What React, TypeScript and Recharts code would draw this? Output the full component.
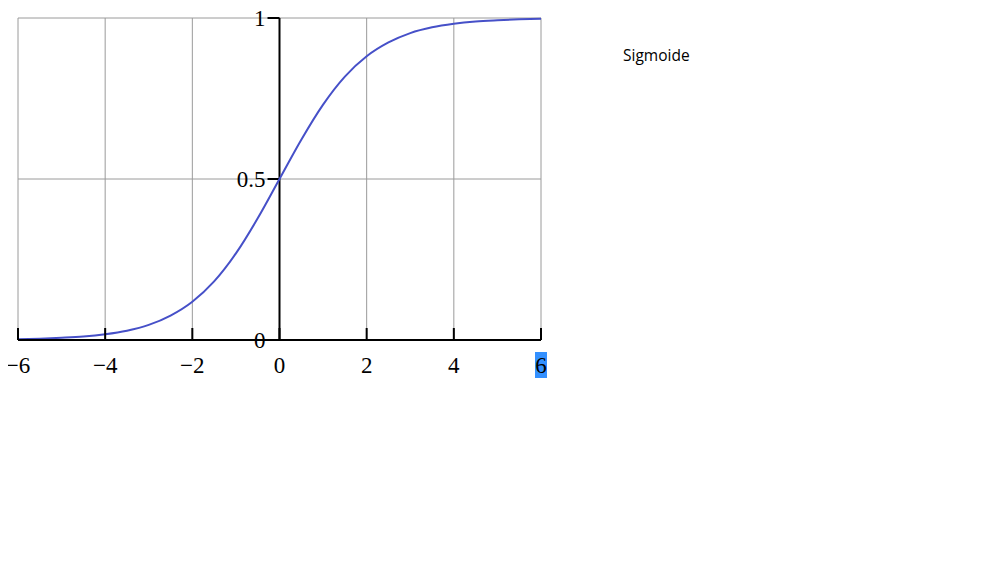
import { CartesianGrid, Line, LineChart, ReferenceLine, XAxis, YAxis } from "recharts";

// sigmoid curve, values
const xs = [-6, -5.5, -5, -4.5, -4, -3.5, -3, -2.5, -2, -1.5, -1, -0.5, 0, 0.5, 1, 1.5, 2, 2.5, 3, 3.5, 4, 4.5, 5, 5.5, 6];
const ys = [0.002, 0.004, 0.007, 0.011, 0.018, 0.029, 0.047, 0.076, 0.119, 0.182, 0.269, 0.378, 0.5, 0.622, 0.731, 0.818, 0.881, 0.924, 0.953, 0.971, 0.982, 0.989, 0.993, 0.996, 0.998];

const xTicks = [-6, -4, -2, 0, 2, 4, 6];
const yTicks = [0, 0.5, 1];
const yTickLabels = ["0", "0.5", "1"];
const selectedTick = 6;
const legendLabel = "Sigmoide";

const data = xs.map((x, i) => ({ x, y: ys[i] }));

const serif = "'Liberation Serif', 'Times New Roman', serif";

const XTick = (props: any) => {
  const { x, y, payload } = props;
  const v = payload.value as number;
  const label = v < 0 ? `\u2212${Math.abs(v)}` : `${v}`;
  return (
    <g>
      <line x1={x} x2={x} y1={y - 12} y2={y} stroke="#000" strokeWidth={2} />
      {v === selectedTick && <rect x={x - 6} y={y + 12} width={12} height={26} fill="#3390ff" />}
      <text x={x} y={y + 33} textAnchor="middle" fontFamily={serif} fontSize={23} fill="#000">
        {label}
      </text>
    </g>
  );
};

export default function App() {
  return (
    <div style={{ position: "relative", width: 976, height: 574, margin: "-8px 0 0 -8px" }}>
      <LineChart width={976} height={574} data={data} margin={{ top: 18, right: 435, bottom: 194, left: 18 }}>
        <CartesianGrid stroke="#9a9a9a" strokeWidth={1} />
        <XAxis
          dataKey="x"
          type="number"
          domain={[-6, 6]}
          ticks={xTicks}
          height={40}
          tickSize={0}
          tickMargin={0}
          tick={<XTick />}
          axisLine={{ stroke: "#000", strokeWidth: 2 }}
          tickLine={false}
        />
        <YAxis hide type="number" domain={[0, 1]} ticks={yTicks} />
        <ReferenceLine x={0} stroke="#000" strokeWidth={2} />
        {yTicks.map((t, i) => (
          <ReferenceLine
            key={t}
            segment={[
              { x: -0.275, y: t },
              { x: 0, y: t },
            ]}
            stroke="#000"
            strokeWidth={2}
            label={{ value: yTickLabels[i], position: "left", offset: 2, fill: "#000", fontSize: 23, fontFamily: serif }}
          />
        ))}
        <Line type="monotone" dataKey="y" stroke="#4650c8" strokeWidth={2} dot={false} isAnimationActive={false} />
      </LineChart>
      <div
        style={{
          position: "absolute",
          left: 623,
          top: 45,
          fontFamily: "'Open Sans', 'Noto Sans', sans-serif",
          fontSize: 15.5,
          lineHeight: "20px",
          color: "#000",
        }}
      >
        {legendLabel}
      </div>
    </div>
  );
}
